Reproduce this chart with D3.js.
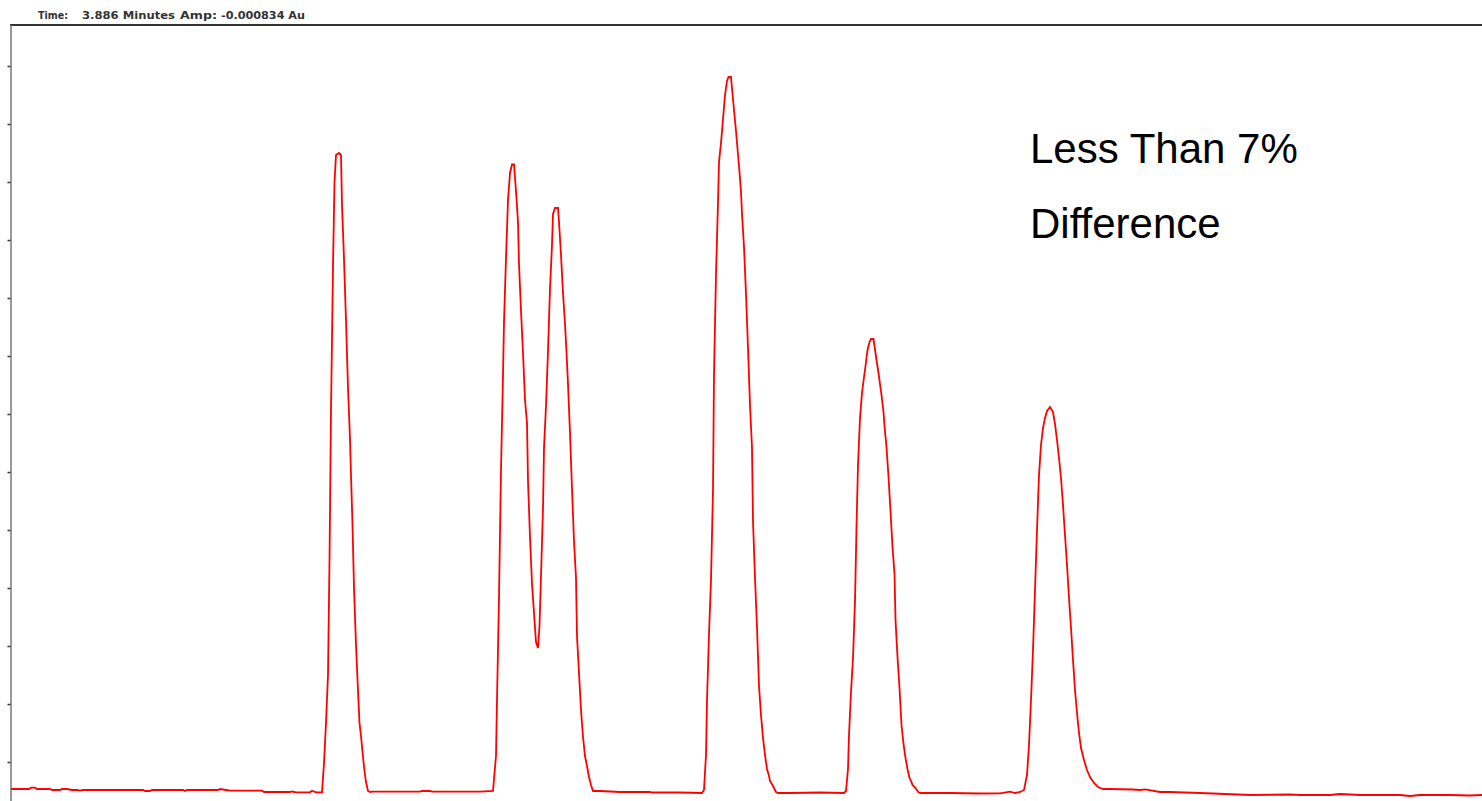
<!DOCTYPE html>
<html lang="en">
<head>
    <meta charset="UTF-8">
    <title>Chromatogram</title>
    <script src="https://d3js.org/d3.v7.min.js"></script>
    <style>
        body {
            margin: 0;
            padding: 0;
            background: #fff;
        }

        #chart {
            display: block;
        }
    </style>
</head>
<body>
<svg id="chart" width="1482" height="801"></svg>

<script>
    // detector trace, [time in minutes, amplitude in counts]
    var trace = [
        // baseline before first peak
        [0.11, 4], [0.29, 4], [0.31, 5.3], [0.35, 5.3], [0.37, 4], [0.50, 4], [0.52, 3], [0.60, 3], [0.62, 4],
        [0.67, 4], [0.72, 3], [0.77, 3], [0.80, 2.3], [0.83, 3], [1.07, 3], [1.43, 3], [1.45, 2], [1.50, 2],
        [1.52, 3], [1.83, 3], [1.85, 2], [1.87, 3], [2.18, 3], [2.20, 4], [2.26, 3], [2.30, 2.3], [2.62, 2.3],
        [2.64, 1], [2.90, 1], [2.92, 1.5], [2.96, 0.7], [3.10, 0.7], [3.12, 2.3], [3.16, 0.7], [3.22, 0.7],
        // peak 1
        [3.24, 30], [3.26, 70], [3.28, 118], [3.295, 232], [3.31, 382], [3.33, 527], [3.345, 611], [3.36, 638],
        [3.39, 640], [3.41, 638], [3.42, 588], [3.44, 534], [3.46, 472], [3.48, 405], [3.50, 354], [3.51, 318],
        [3.525, 268], [3.54, 205], [3.56, 148], [3.58, 102], [3.595, 70], [3.61, 57], [3.63, 36], [3.645, 22],
        [3.66, 11], [3.68, 2], [3.70, 1],
        [3.72, 1.3], [4.20, 1.3], [4.22, 2], [4.30, 2], [4.32, 1.3], [4.80, 1.3], [4.93, 2],
        // peaks 2 and 3
        [4.94, 14], [4.96, 37], [4.97, 93], [4.99, 196], [5.01, 323], [5.03, 418], [5.04, 471], [5.06, 535],
        [5.08, 593], [5.10, 620], [5.12, 628.5], [5.14, 628.5], [5.16, 602], [5.18, 571], [5.19, 529],
        [5.21, 482], [5.23, 440], [5.25, 393], [5.27, 370], [5.28, 312], [5.30, 256], [5.32, 209], [5.34, 180],
        [5.36, 151], [5.38, 145], [5.395, 167], [5.41, 217], [5.43, 285], [5.44, 345], [5.46, 387], [5.48, 442],
        [5.50, 504], [5.52, 548], [5.53, 579], [5.55, 585], [5.58, 585], [5.59, 571], [5.61, 538], [5.63, 500],
        [5.65, 469], [5.66, 451], [5.68, 409], [5.70, 360], [5.72, 304], [5.74, 252], [5.76, 215], [5.77, 157],
        [5.79, 120], [5.81, 83], [5.83, 56], [5.85, 37], [5.87, 27], [5.89, 16], [5.91, 8], [5.93, 2],
        [6.00, 2], [6.20, 1], [6.50, 1], [6.52, 0.5], [6.80, 0.5], [7.02, 0],
        // peak 4
        [7.04, 3], [7.06, 38], [7.07, 92], [7.09, 159], [7.11, 213], [7.13, 303], [7.14, 419], [7.16, 518],
        [7.18, 591], [7.19, 631], [7.21, 650], [7.23, 674], [7.25, 698], [7.27, 712], [7.285, 716], [7.31, 716],
        [7.32, 705], [7.34, 683], [7.36, 662], [7.39, 627], [7.41, 601], [7.42, 579], [7.44, 546], [7.46, 499],
        [7.48, 445], [7.50, 388], [7.52, 345], [7.53, 272], [7.55, 215], [7.57, 166], [7.59, 107], [7.61, 78],
        [7.63, 55], [7.65, 38], [7.67, 24], [7.69, 17], [7.70, 12], [7.73, 7], [7.76, 1], [7.78, 0],
        [7.90, 0], [8.20, 0.5], [8.44, 0],
        // peak 5
        [8.46, 2], [8.48, 24], [8.49, 58], [8.51, 101], [8.53, 135], [8.55, 192], [8.565, 266], [8.58, 328],
        [8.60, 375], [8.62, 400], [8.635, 412], [8.655, 427], [8.675, 443], [8.695, 451], [8.71, 454],
        [8.735, 454], [8.745, 447], [8.765, 433], [8.785, 420], [8.815, 398], [8.835, 381], [8.845, 367],
        [8.865, 346], [8.885, 316], [8.905, 282], [8.925, 246], [8.945, 219], [8.955, 173], [8.975, 136],
        [8.995, 105], [9.015, 68], [9.035, 49], [9.055, 35], [9.075, 24], [9.095, 15], [9.115, 11], [9.125, 8],
        [9.155, 5], [9.185, 0.5], [9.21, 0],
        [9.50, 0], [9.80, -0.5], [10.00, -0.3], [10.10, 1.3], [10.15, 0], [10.20, 1], [10.24, 3],
        // peak 6
        [10.27, 18], [10.29, 48], [10.31, 93], [10.33, 143], [10.35, 203], [10.37, 263], [10.39, 318],
        [10.41, 348], [10.43, 365], [10.45, 375], [10.47, 382], [10.50, 386], [10.53, 381], [10.55, 369],
        [10.57, 353], [10.59, 335], [10.61, 315], [10.63, 288], [10.65, 258], [10.67, 228], [10.69, 195],
        [10.71, 165], [10.73, 133], [10.75, 103], [10.77, 80], [10.79, 60], [10.81, 45], [10.84, 33],
        [10.87, 23], [10.90, 16], [10.94, 10], [10.98, 6], [11.03, 4],
        // baseline after last peak
        [11.10, 4], [11.33, 3.5], [11.40, 3], [11.45, 3.7], [11.60, 1], [11.70, 1], [12.00, 0], [12.50, -2],
        [12.90, -1.5], [13.00, -2], [13.30, -2], [13.40, -1], [13.60, -2], [14.00, -2], [14.10, -3],
        [14.20, -2], [14.50, -2], [14.70, -2.5], [14.82, -2]
    ];

    var ampTicks = [31, 89, 147, 205, 263, 321, 379, 437, 495, 553, 611, 669, 727];

    // cursor readout at the top
    var readout = [
        { text: "Time:", at: 38, len: 30 },
        { text: "3.886 Minutes", at: 82, len: 93 },
        { text: "Amp:", at: 180, len: 37 },
        { text: "-0.000834 Au", at: 221, len: 84 }
    ];

    var note = ["Less Than 7%", "Difference"];

    var svg = d3.select("#chart"),
        width = +svg.attr("width"),
        height = +svg.attr("height");

    var plotLeft = 11, plotTop = 25;

    var x = d3.scaleLinear()
        .domain([0.11, 14.82])
        .range([plotLeft, width]);

    var y = d3.scaleLinear()
        .domain([-8, 768])
        .range([height, plotTop]);

    svg.append("clipPath")
        .attr("id", "plot")
        .append("rect")
        .attr("x", plotLeft)
        .attr("y", plotTop)
        .attr("width", width - plotLeft)
        .attr("height", height - plotTop);

    // readout text
    svg.selectAll(".readout")
        .data(readout)
        .enter().append("text")
        .attr("class", "readout")
        .attr("x", function(d) { return d.at; })
        .attr("y", 19)
        .attr("textLength", function(d) { return d.len; })
        .attr("lengthAdjust", "spacingAndGlyphs")
        .style("font-family", "'DejaVu Sans', sans-serif")
        .style("font-size", "11px")
        .style("font-weight", "bold")
        .style("fill", "#333")
        .text(function(d) { return d.text; });

    // frame top
    svg.append("line")
        .attr("x1", plotLeft - 1)
        .attr("x2", width)
        .attr("y1", plotTop)
        .attr("y2", plotTop)
        .style("stroke", "#333")
        .style("stroke-width", 2);

    // left axis, tick marks only
    var axis = svg.append("g")
        .attr("transform", "translate(" + (plotLeft - 0.5) + ",0)")
        .call(d3.axisLeft(y)
            .tickValues(ampTicks)
            .tickSize(3)
            .tickSizeOuter(0)
            .tickFormat(""));

    axis.select(".domain")
        .style("stroke", "#999")
        .style("stroke-width", 2);

    axis.selectAll(".tick line")
        .style("stroke", "#333")
        .style("stroke-width", 1.5);

    var line = d3.line()
        .x(function(d) { return x(d[0]); })
        .y(function(d) { return y(d[1]); });

    svg.append("path")
        .datum(trace)
        .attr("clip-path", "url(#plot)")
        .attr("d", line)
        .style("fill", "none")
        .style("stroke", "#ff0000")
        .style("stroke-width", 1.8);

    // annotation
    svg.selectAll(".note")
        .data(note)
        .enter().append("text")
        .attr("class", "note")
        .attr("x", 1030)
        .attr("y", function(d, i) { return 163 + i * 75; })
        .style("font-family", "'Liberation Sans', Arial, sans-serif")
        .style("font-size", "42px")
        .style("fill", "#000")
        .text(function(d) { return d; });
</script>
</body>
</html>
